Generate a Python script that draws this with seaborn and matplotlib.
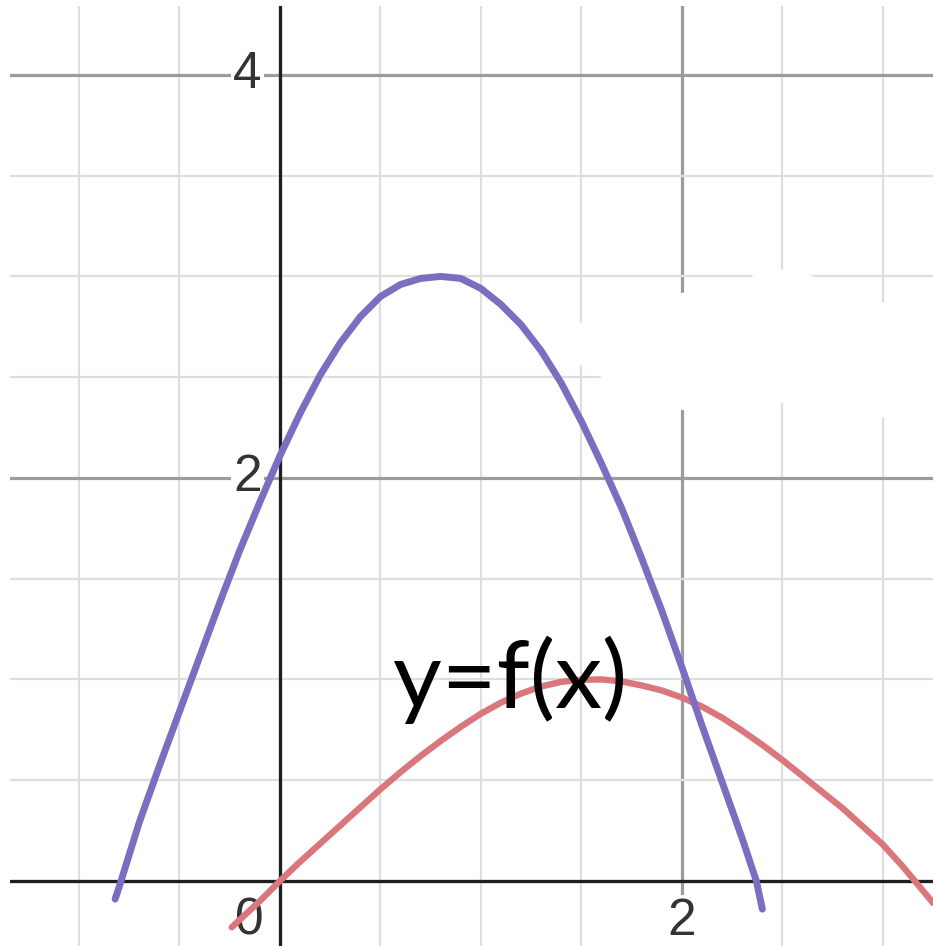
import matplotlib
matplotlib.use("Agg")
import matplotlib.pyplot as plt
import seaborn as sns
import pandas as pd

# Curve samples (x, y)
purple_x = [-0.82, -0.80, -0.70, -0.60, -0.50, -0.40, -0.30, -0.20, -0.10, 0.00,
            0.10, 0.20, 0.30, 0.40, 0.50, 0.60, 0.70, 0.80, 0.90, 1.00,
            1.10, 1.20, 1.30, 1.40, 1.50, 1.60, 1.70, 1.80, 1.90, 2.00,
            2.10, 2.20, 2.30, 2.37, 2.40]
purple_y = [-0.09, -0.03, 0.29, 0.57, 0.84, 1.11, 1.38, 1.64, 1.88, 2.11,
            2.32, 2.51, 2.67, 2.80, 2.90, 2.96, 2.99, 3.00, 2.99, 2.94,
            2.86, 2.76, 2.63, 2.47, 2.28, 2.07, 1.85, 1.60, 1.34, 1.06,
            0.77, 0.49, 0.21, 0.00, -0.14]

red_x = [-0.24, -0.10, 0.00, 0.10, 0.20, 0.30, 0.40, 0.50, 0.60, 0.70,
         0.80, 0.90, 1.00, 1.10, 1.20, 1.30, 1.40, 1.50, 1.60, 1.70,
         1.80, 1.90, 2.00, 2.10, 2.20, 2.30, 2.40, 2.50, 2.60, 2.70,
         2.80, 2.90, 3.00, 3.10, 3.15, 3.25]
red_y = [-0.23, -0.10, 0.00, 0.095, 0.185, 0.275, 0.365, 0.455, 0.54, 0.62,
         0.695, 0.765, 0.83, 0.885, 0.93, 0.965, 0.988, 0.998, 1.00, 0.99,
         0.97, 0.945, 0.91, 0.865, 0.81, 0.745, 0.675, 0.60, 0.52, 0.44,
         0.36, 0.27, 0.18, 0.07, 0.01, -0.11]

# Axis labels
ytick_vals = [2, 4]
xtick_vals = [2]
origin_label = "0"
curve_label = "y=f(x)"

# Erased region of the grid (white blotch)
blotch_x = [1.468, 1.502, 1.791, 2.0, 2.313, 2.388, 2.587, 2.736, 2.985, 3.284,
            3.284, 2.985, 2.736, 2.498, 2.189, 2.0, 1.741, 1.502, 1.453]
blotch_y = [2.734, 2.774, 2.883, 2.918, 2.973, 3.032, 3.032, 2.958, 2.873, 2.834,
            2.362, 2.298, 2.337, 2.372, 2.328, 2.337, 2.427, 2.551, 2.635]

sns.set_style("white")
plt.rcParams["font.family"] = ["Liberation Sans", "DejaVu Sans"]

fig = plt.figure(figsize=(9.33, 9.46), dpi=100)
ax = fig.add_axes([10 / 933, 0, 923 / 933, 940 / 946])

red_df = pd.DataFrame({"x": red_x, "y": red_y})
purple_df = pd.DataFrame({"x": purple_x, "y": purple_y})
sns.lineplot(data=red_df, x="x", y="y", sort=False, estimator=None, ax=ax,
             color="#d9777c", linewidth=4.6, zorder=3, solid_joinstyle="round")
sns.lineplot(data=purple_df, x="x", y="y", sort=False, estimator=None, ax=ax,
             color="#7b6ec0", linewidth=5.0, zorder=4, solid_joinstyle="round")
ax.set_xlabel("")
ax.set_ylabel("")

# Grid: major every 2, minor every 0.5
ax.set_xticks([-2, 0, 2])
ax.set_yticks([0, 2, 4])
ax.set_xticks([x * 0.5 for x in range(-4, 8)], minor=True)
ax.set_yticks([y * 0.5 for y in range(-2, 10)], minor=True)
ax.grid(which="major", color="#9c9c9c", linewidth=2.3, zorder=0)
ax.grid(which="minor", color="#dedede", linewidth=1.6, zorder=0)
ax.tick_params(which="both", length=0, labelbottom=False, labelleft=False)
for s in ax.spines.values():
    s.set_visible(False)
ax.set_axisbelow(True)

ax.fill(blotch_x, blotch_y, color="white", zorder=1, linewidth=0)

ax.axhline(0, color="#1e1e1e", linewidth=2.3, zorder=2)
ax.axvline(0, color="#1e1e1e", linewidth=2.3, zorder=2)

# Tick numbers sit on white boxes above the grid, under the curves
box = dict(facecolor="white", edgecolor="none", pad=1.5)
for v in ytick_vals:
    ax.text(-0.09, v, str(v), ha="right", va="center", fontsize=37,
            color="#333333", bbox=box, zorder=2.5)
for v in xtick_vals:
    ax.text(v, -0.2, str(v), ha="center", va="center", fontsize=37,
            color="#333333", bbox=box, zorder=2.5)
ax.text(-0.154, -0.2, origin_label, ha="center", va="center", fontsize=37,
        color="#333333", zorder=2.5)

ax.text(0.562, 0.859, curve_label, ha="left", va="baseline", fontsize=68,
        family=["Lato", "DejaVu Sans"], color="black", zorder=6)

ax.set_xlim(-1.343, 3.249)
ax.set_ylim(-0.323, 4.342)
fig.savefig("out.png", dpi=100)
